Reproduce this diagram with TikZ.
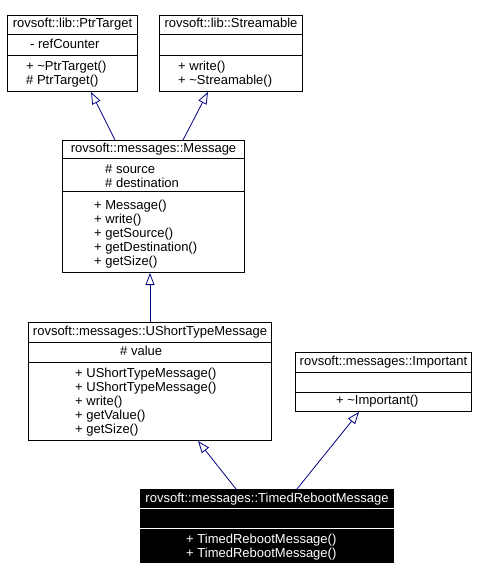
\documentclass[tikz,border=0pt]{standalone}
\usepackage{fontspec}
\setmainfont{Liberation Sans}
\usetikzlibrary{arrows.meta}
\definecolor{edgeblue}{RGB}{0,0,128}

\begin{document}
\begin{tikzpicture}[x=1pt,y=-1pt,
    cls/.style={draw,line width=1pt,anchor=north west,inner sep=0pt},
    member/.style={anchor=west,inner sep=0pt,text height=9pt,text depth=3pt,
      font=\fontsize{13}{14}\selectfont},
    title/.style={member,anchor=center},
    inherit/.style={draw=edgeblue,line width=.8pt,
      -{Triangle[open,length=12pt,width=9pt,line width=.8pt]}}]
  \useasboundingbox (0,0) rectangle (476,580);

  % rovsoft::lib::PtrTarget
  \node[cls,minimum width=130pt,minimum height=76pt] (ptr) at (7,15) {};
  \draw[line width=1pt] (ptr.west |- 0,35) -- (ptr.east |- 0,35);
  \draw[line width=1pt] (ptr.west |- 0,56) -- (ptr.east |- 0,56);
  \node[title] at (ptr.north |- 0,25) {rovsoft::lib::PtrTarget};
  \node[member] at (30,46) {- refCounter};
  \foreach \y/\t in {68/+ \textasciitilde PtrTarget(), 82/\# PtrTarget()}{
    \node[member] at (26,\y) {\t};
  }

  % rovsoft::lib::Streamable
  \node[cls,minimum width=143pt,minimum height=76pt] (stream) at (159,15) {};
  \draw[line width=1pt] (stream.west |- 0,35) -- (stream.east |- 0,35);
  \draw[line width=1pt] (stream.west |- 0,56) -- (stream.east |- 0,56);
  \node[title] at (stream.north |- 0,25) {rovsoft::lib::Streamable};
  \foreach \y/\t in {68/+ write(), 82/+ \textasciitilde Streamable()}{
    \node[member] at (178,\y) {\t};
  }

  % rovsoft::messages::Message
  \node[cls,minimum width=182pt,minimum height=132pt] (msg) at (62,140) {};
  \draw[line width=1pt] (msg.west |- 0,159) -- (msg.east |- 0,159);
  \draw[line width=1pt] (msg.west |- 0,191) -- (msg.east |- 0,191);
  \node[title] at (msg.north |- 0,150) {rovsoft::messages::Message};
  \foreach \y/\t in {170/\# source, 184/\# destination}{
    \node[member] at (105,\y) {\t};
  }
  \foreach \y/\t in {206/+ Message(), 220/+ write(), 234/+ getSource(),
      248/+ getDestination(), 262/+ getSize()}{
    \node[member] at (94,\y) {\t};
  }

  % rovsoft::messages::UShortTypeMessage
  \node[cls,minimum width=243pt,minimum height=118pt] (ushort) at (28,322) {};
  \draw[line width=1pt] (ushort.west |- 0,342) -- (ushort.east |- 0,342);
  \draw[line width=1pt] (ushort.west |- 0,362) -- (ushort.east |- 0,362);
  \node[title] at (ushort.north |- 0,332) {rovsoft::messages::UShortTypeMessage};
  \node[member] at (120,352) {\# value};
  \foreach \y/\t in {374/+ UShortTypeMessage(), 388/+ UShortTypeMessage(),
      402/+ write(), 416/+ getValue(), 430/+ getSize()}{
    \node[member] at (75,\y) {\t};
  }

  % rovsoft::messages::Important
  \node[cls,minimum width=176pt,minimum height=59pt] (imp) at (295,352) {};
  \draw[line width=1pt] (imp.west |- 0,372) -- (imp.east |- 0,372);
  \draw[line width=1pt] (imp.west |- 0,392) -- (imp.east |- 0,392);
  \node[title] at (imp.north |- 0,362) {rovsoft::messages::Important};
  \node[member] at (336,401) {+ \textasciitilde Important()};

  % rovsoft::messages::TimedRebootMessage
  \node[cls,fill=black,minimum width=253pt,minimum height=73pt] (timed) at (140,489) {};
  \draw[white,line width=1pt] (timed.west |- 0,508) -- (timed.east |- 0,508);
  \draw[white,line width=1pt] (timed.west |- 0,528) -- (timed.east |- 0,528);
  \node[title,white] at (timed.north |- 0,499) {rovsoft::messages::TimedRebootMessage};
  \foreach \y/\t in {540/+ TimedRebootMessage(), 554/+ TimedRebootMessage()}{
    \node[member,white] at (186,\y) {\t};
  }

  % inheritance
  \draw[inherit] (msg.north -| 115,0) -- (ptr.south -| 91,0);
  \draw[inherit] (msg.north -| 183,0) -- (stream.south -| 208,0);
  \draw[inherit] (ushort.north -| 150,0) -- (msg.south -| 150,0);
  \draw[inherit] (timed.north -| 236,0) -- (ushort.south -| 198,0);
  \draw[inherit] (timed.north -| 297,0) -- (imp.south -| 359,0);
\end{tikzpicture}
\end{document}
